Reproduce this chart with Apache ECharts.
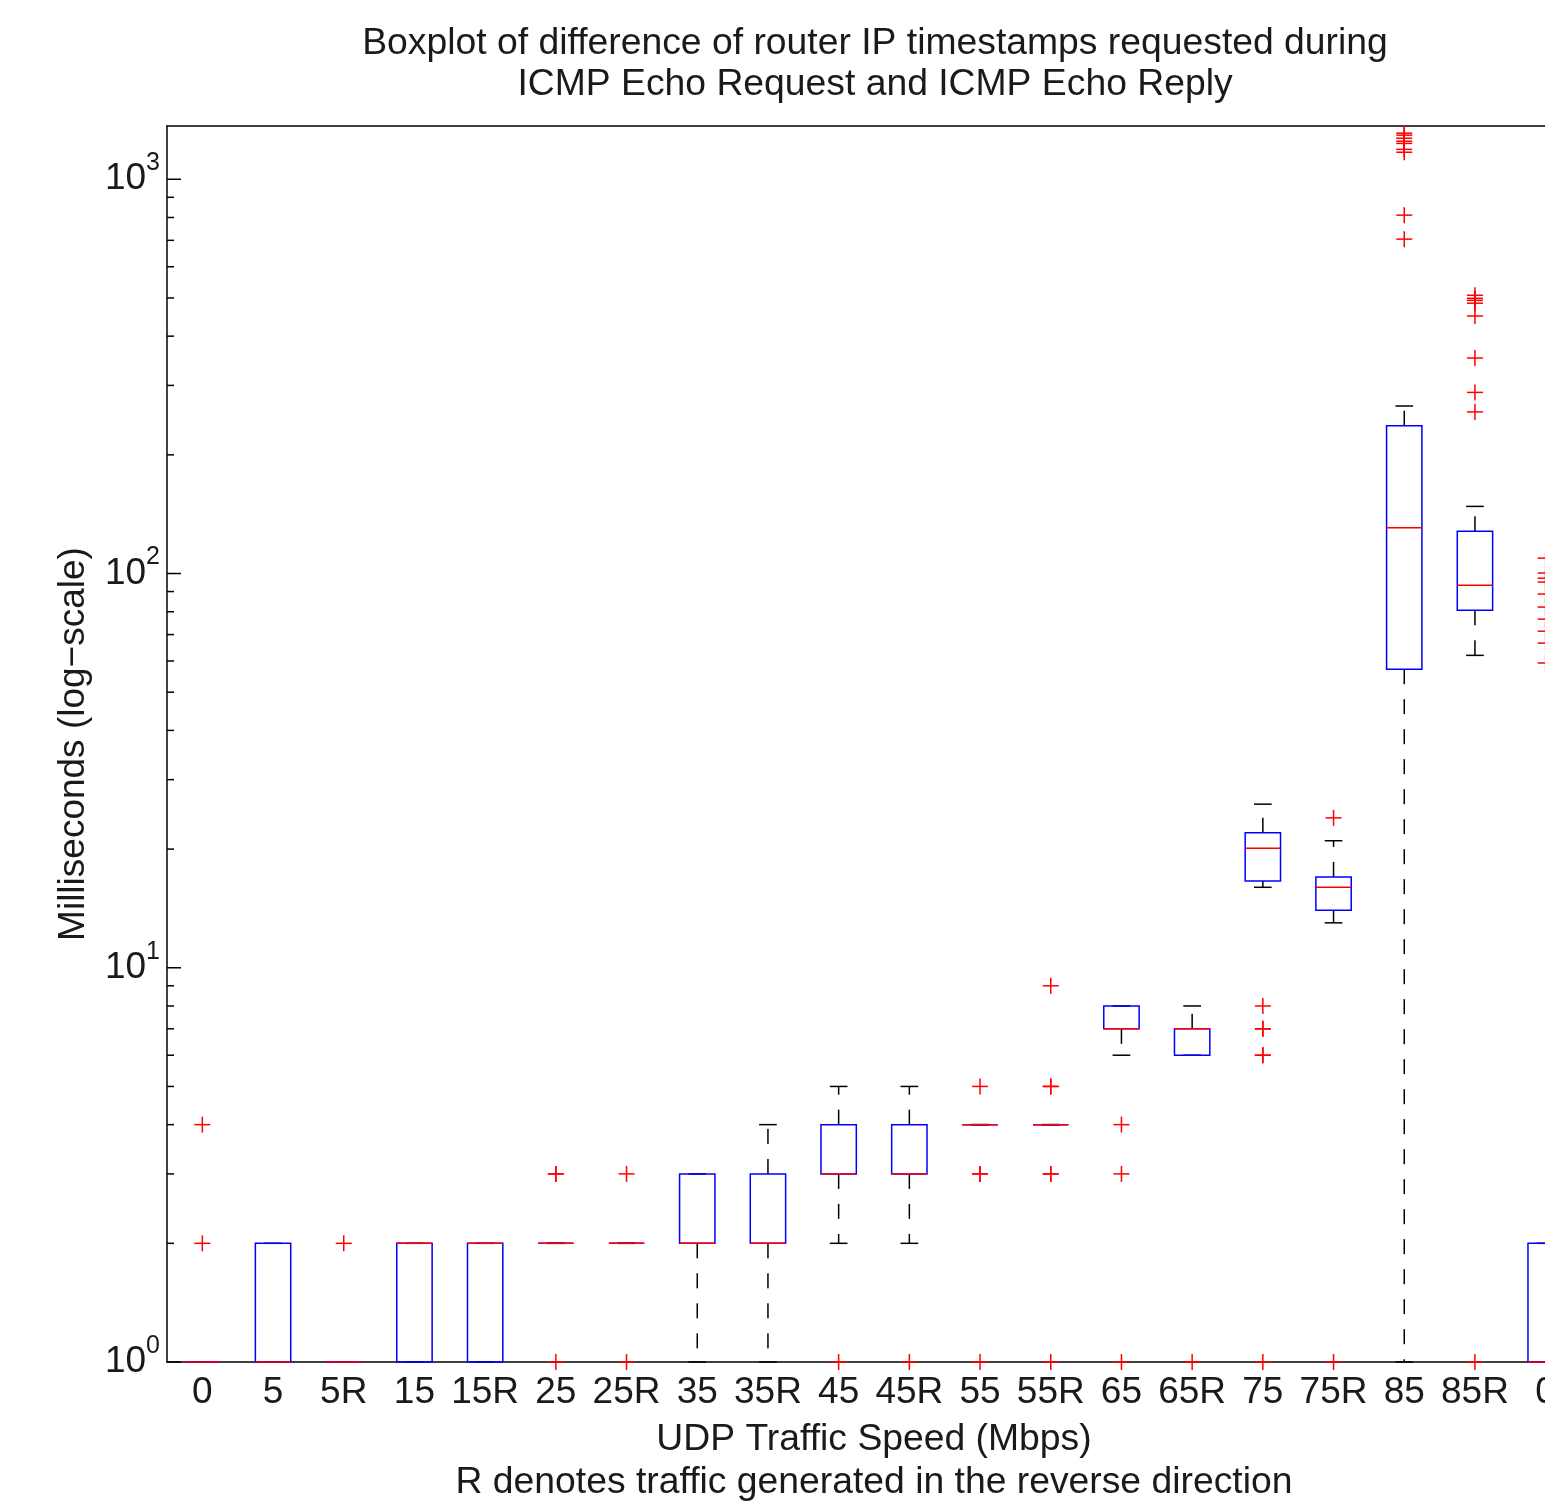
<!DOCTYPE html>
<html>
<head>
<meta charset="utf-8">
<script src="https://cdn.jsdelivr.net/npm/echarts@6/dist/echarts.min.js"></script>
<style>
    html, body { margin: 0; padding: 0; overflow: hidden; background: #fff; }
    /* the original figure is cropped on the right, so the chart is wider than the window */
    #chart { width: 1750px; height: 1504px; }
</style>
</head>
<body>
<div id="chart"></div>
<script>
    // categories (the last label is cut off by the right edge in the original)
    var categories = ['0', '5', '5R', '15', '15R', '25', '25R', '35', '35R', '45', '45R',
        '55', '55R', '65', '65R', '75', '75R', '85', '85R', '0'];

    // box statistics in milliseconds
    var whiskerLow = [1, 1, 1, 1, 1, 2, 2, 1, 1, 2, 2, 4, 4, 6, 6, 16, 13, 1, 62, 1];
    var quartile1 = [1, 1, 1, 1, 1, 2, 2, 2, 2, 3, 3, 4, 4, 7, 6, 16.6, 14, 57.2, 80.7, 1];
    var medians = [1, 1, 1, 2, 2, 2, 2, 2, 2, 3, 3, 4, 4, 7, 7, 20.1, 16, 130.6, 93.4, 1];
    var quartile3 = [1, 2, 1, 2, 2, 2, 2, 3, 3, 4, 4, 4, 4, 8, 7, 22, 17, 237, 128, 2];
    var whiskerHigh = [1, 2, 1, 2, 2, 2, 2, 3, 4, 5, 5, 4, 4, 8, 8, 26, 21, 266, 148, 2];

    // outliers per category (repeated values draw bolder crosses)
    var outliers = [
        [4, 2],
        [],
        [2],
        [],
        [],
        [3, 3, 1],
        [3, 1],
        [],
        [],
        [1],
        [1],
        [5, 3, 3, 1],
        [9, 5, 5, 3, 3, 1],
        [4, 3, 1],
        [1],
        [8, 7, 7, 6, 6, 1],
        [24, 1],
        [1309, 1294, 1271, 1249, 1233, 1191, 1171, 811, 705],
        [508, 499, 493, 485, 450, 352, 288, 257, 1],
        [109.4, 100.3, 97.3, 95.1, 88.7, 82.2, 76.6, 71.4, 66.6, 59.3]
    ];

    var yMin = 1;
    var yMax = 1365;
    var decades = [1, 10, 100, 1000];
    var minorSteps = [2, 3, 4, 5, 6, 7, 8, 9];

    var font = 'Liberation Sans, Arial, Helvetica, sans-serif';
    var ink = '#1a1a1a';

    var boxData = categories.map(function (c, i) {
        return [i, whiskerLow[i], quartile1[i], medians[i], quartile3[i], whiskerHigh[i]];
    });
    var outlierData = [];
    outliers.forEach(function (list, i) {
        list.forEach(function (v) { outlierData.push([i, v]); });
    });
    var yTickData = [];
    decades.forEach(function (d) {
        yTickData.push([0, d, 1]);
        minorSteps.forEach(function (m) {
            if (d * m <= yMax) yTickData.push([0, d * m, 0]);
        });
    });

    function bandWidth(api) {
        return api.coord([1, 1])[0] - api.coord([0, 1])[0];
    }

    function renderBox(params, api) {
        var i = api.value(0);
        var lo = api.coord([i, api.value(1)]);
        var b1 = api.coord([i, api.value(2)]);
        var md = api.coord([i, api.value(3)]);
        var b3 = api.coord([i, api.value(4)]);
        var hi = api.coord([i, api.value(5)]);
        var band = bandWidth(api);
        var half = band * 0.25;
        var cap = band * 0.125;
        var x = lo[0];
        var dashed = {stroke: '#000', lineWidth: 1.5, lineDash: [15, 15], fill: null};
        var solid = {stroke: '#000', lineWidth: 1.5, fill: null};
        var children = [];
        if (hi[1] < b3[1] - 0.5) {
            children.push({type: 'line', shape: {x1: x, y1: b3[1], x2: x, y2: hi[1]}, style: dashed});
        }
        if (lo[1] > b1[1] + 0.5) {
            children.push({type: 'line', shape: {x1: x, y1: b1[1], x2: x, y2: lo[1]}, style: dashed});
        }
        children.push({type: 'line', shape: {x1: x - cap, y1: hi[1], x2: x + cap, y2: hi[1]}, style: solid});
        children.push({type: 'line', shape: {x1: x - cap, y1: lo[1], x2: x + cap, y2: lo[1]}, style: solid});
        children.push({
            type: 'rect',
            shape: {x: x - half, y: b3[1], width: half * 2, height: b1[1] - b3[1]},
            style: {stroke: '#0000ff', lineWidth: 1.5, fill: null}
        });
        children.push({
            type: 'line',
            shape: {x1: x - half, y1: md[1], x2: x + half, y2: md[1]},
            style: {stroke: '#ff0000', lineWidth: 1.5}
        });
        return {type: 'group', children: children};
    }

    function renderCross(params, api) {
        var p = api.coord([api.value(0), api.value(1)]);
        var r = 8;
        var st = {stroke: '#ff0000', lineWidth: 1.5};
        return {
            type: 'group',
            children: [
                {type: 'line', shape: {x1: p[0] - r, y1: p[1], x2: p[0] + r, y2: p[1]}, style: st},
                {type: 'line', shape: {x1: p[0], y1: p[1] - r, x2: p[0], y2: p[1] + r}, style: st}
            ]
        };
    }

    function renderYTick(params, api) {
        var p = api.coord([0, api.value(1)]);
        var x0 = params.coordSys.x;
        var len = api.value(2) ? 14 : 7;
        return {
            type: 'line',
            shape: {x1: x0, y1: p[1], x2: x0 + len, y2: p[1]},
            style: {stroke: '#000', lineWidth: 1.5}
        };
    }

    var myChart = echarts.init(document.getElementById('chart'));
    myChart.setOption({
        animation: false,
        backgroundColor: '#fff',
        title: {
            text: 'Boxplot of difference of router IP timestamps requested during\nICMP Echo Request and ICMP Echo Reply',
            left: 'center',
            top: 18,
            textStyle: {fontFamily: font, fontSize: 37.3, fontWeight: 'normal', color: ink, lineHeight: 41}
        },
        grid: {left: 167, top: 126, width: 1414, height: 1236, outerBoundsMode: 'none'},
        xAxis: [{
            type: 'category',
            data: categories,
            position: 'bottom',
            axisLine: {lineStyle: {color: '#000', width: 1.5}},
            axisTick: {inside: true, length: 14, alignWithLabel: true, lineStyle: {color: '#000', width: 1.5}},
            axisLabel: {fontFamily: font, fontSize: 37, color: ink, margin: 12, interval: 0},
            splitLine: {show: false},
            name: 'UDP Traffic Speed (Mbps)\nR denotes traffic generated in the reverse direction',
            nameLocation: 'middle',
            nameGap: 56,
            nameTextStyle: {fontFamily: font, fontSize: 37.3, color: ink, lineHeight: 43, verticalAlign: 'top'}
        }, {
            type: 'category',
            data: categories,
            position: 'top',
            axisLine: {lineStyle: {color: '#000', width: 1.5}},
            axisTick: {inside: true, length: 14, alignWithLabel: true, lineStyle: {color: '#000', width: 1.5}},
            axisLabel: {show: false}
        }],
        yAxis: {
            type: 'log',
            logBase: 10,
            min: yMin,
            max: yMax,
            axisLine: {show: true, lineStyle: {color: '#000', width: 1.5}},
            axisTick: {show: false},
            splitLine: {show: false},
            axisLabel: {
                showMaxLabel: false,
                margin: 7,
                formatter: function (v) {
                    var e = Math.round(Math.log(v) / Math.LN10);
                    if (Math.abs(Math.pow(10, e) - v) > 1e-6 * v) return '';
                    return '{b|10}{s|' + e + '}';
                },
                rich: {
                    b: {fontFamily: font, fontSize: 37, color: ink},
                    s: {fontFamily: font, fontSize: 25, color: ink, padding: [0, 0, 32, 0]}
                }
            },
            name: 'Milliseconds (log\u2212scale)',
            nameLocation: 'middle',
            nameGap: 75,
            nameTextStyle: {fontFamily: font, fontSize: 37, color: ink}
        },
        series: [{
            type: 'custom',
            renderItem: renderYTick,
            data: yTickData,
            encode: {x: 0, y: 1},
            silent: true,
            z: 1
        }, {
            type: 'custom',
            renderItem: renderBox,
            data: boxData,
            encode: {x: 0, y: [1, 2, 3, 4, 5]},
            z: 2
        }, {
            type: 'custom',
            renderItem: renderCross,
            data: outlierData,
            encode: {x: 0, y: 1},
            z: 3
        }]
    });
</script>
</body>
</html>
